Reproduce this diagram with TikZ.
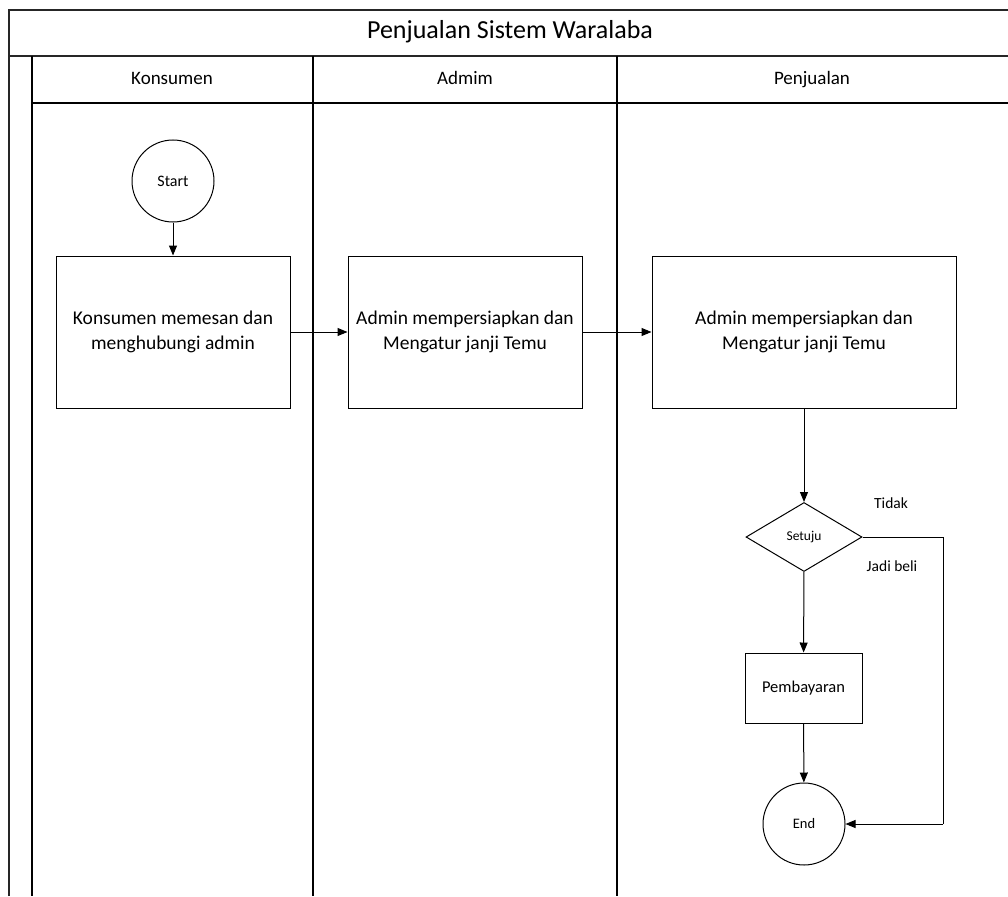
\documentclass[tikz,border=0pt]{standalone}
\usepackage{fontspec}
\setmainfont{Carlito}
\usetikzlibrary{arrows.meta,shapes.geometric}
\begin{document}
\begin{tikzpicture}[x=1pt,y=-1pt,
  frame/.style={line width=1.4pt,draw=black!85},
  lane/.style={line width=1.2pt,draw=black},
  lanehead/.style={font=\fontsize{19}{24}\selectfont,text height=13pt,text depth=4pt,inner sep=0pt},
  procbox/.style={draw,line width=1pt,rectangle,inner sep=0pt,align=center,font=\fontsize{19.5}{25}\selectfont},
  termnode/.style={draw,line width=1pt,circle,minimum size=82pt,inner sep=0pt,font=\fontsize{14.5}{17}\selectfont},
  decide/.style={draw,line width=1pt,diamond,aspect=1.68,minimum width=116pt,minimum height=69pt,inner sep=0pt,font=\fontsize{13.5}{16}\selectfont},
  flow/.style={line width=1pt,-{Triangle[length=10pt,width=8pt]}},
  plain/.style={line width=1pt},
  lbl/.style={font=\fontsize{15.5}{18}\selectfont,inner sep=0pt}]
\useasboundingbox (0,0) rectangle (1008,896);
\fill[white] (0,0) rectangle (1008,896);

% pool frame, title row and lane header row
\draw[frame] (9,896) -- (9,10) -- (1008,10);
\draw[frame] (9,56) -- (1008,56);
\draw[lane] (32,56) -- (32,896);
\draw[lane] (313,56) -- (313,896);
\draw[lane] (617,56) -- (617,896);
\draw[lane] (32,103) -- (1008,103);

\node[font=\fontsize{26}{30}\selectfont,text height=18pt,text depth=6pt,inner sep=0pt] (title) at (510,33) {Penjualan Sistem Waralaba};
\node[lanehead] (h1) at (172,80) {Konsumen};
\node[lanehead] (h2) at (465,80) {Admim};
\node[lanehead] (h3) at (812,80) {Penjualan};

% flow nodes
\node[termnode,font=\fontsize{16}{19}\selectfont] (start) at (173,181) {Start};
\node[procbox,minimum width=234pt,minimum height=152pt] (pesan) at (173,332)
  {Konsumen memesan dan\\menghubungi admin};
\node[procbox,minimum width=234pt,minimum height=152pt] (siap) at (465,332)
  {Admin mempersiapkan dan\\Mengatur janji Temu};
\node[procbox,minimum width=304pt,minimum height=152pt] (atur) at (804,332)
  {Admin mempersiapkan dan\\Mengatur janji Temu};
\node[decide] (setuju) at (804,537) {Setuju};
\node[procbox,minimum width=117pt,minimum height=70pt,font=\fontsize{16.5}{20}\selectfont] (bayar) at (803.5,688) {Pembayaran};
\node[termnode] (end) at (804,824) {End};
\coordinate (c1) at (943,537);
\coordinate (c2) at (943,824);

\node[lbl] (tidak) at (891,503) {Tidak};
\node[lbl] (jadi) at (892,566) {Jadi beli};

% connectors
\draw[flow] (start) -- (pesan);
\draw[flow] (pesan) -- (siap);
\draw[flow] (siap) -- (atur);
\draw[flow] (atur) -- (setuju);
\draw[flow] (setuju) -- (bayar);
\draw[flow] (bayar) -- (end);
\draw[plain] (setuju.east) -- (c1) -- (c2);
\draw[flow] (c2) -- (end.east);
\end{tikzpicture}
\end{document}
